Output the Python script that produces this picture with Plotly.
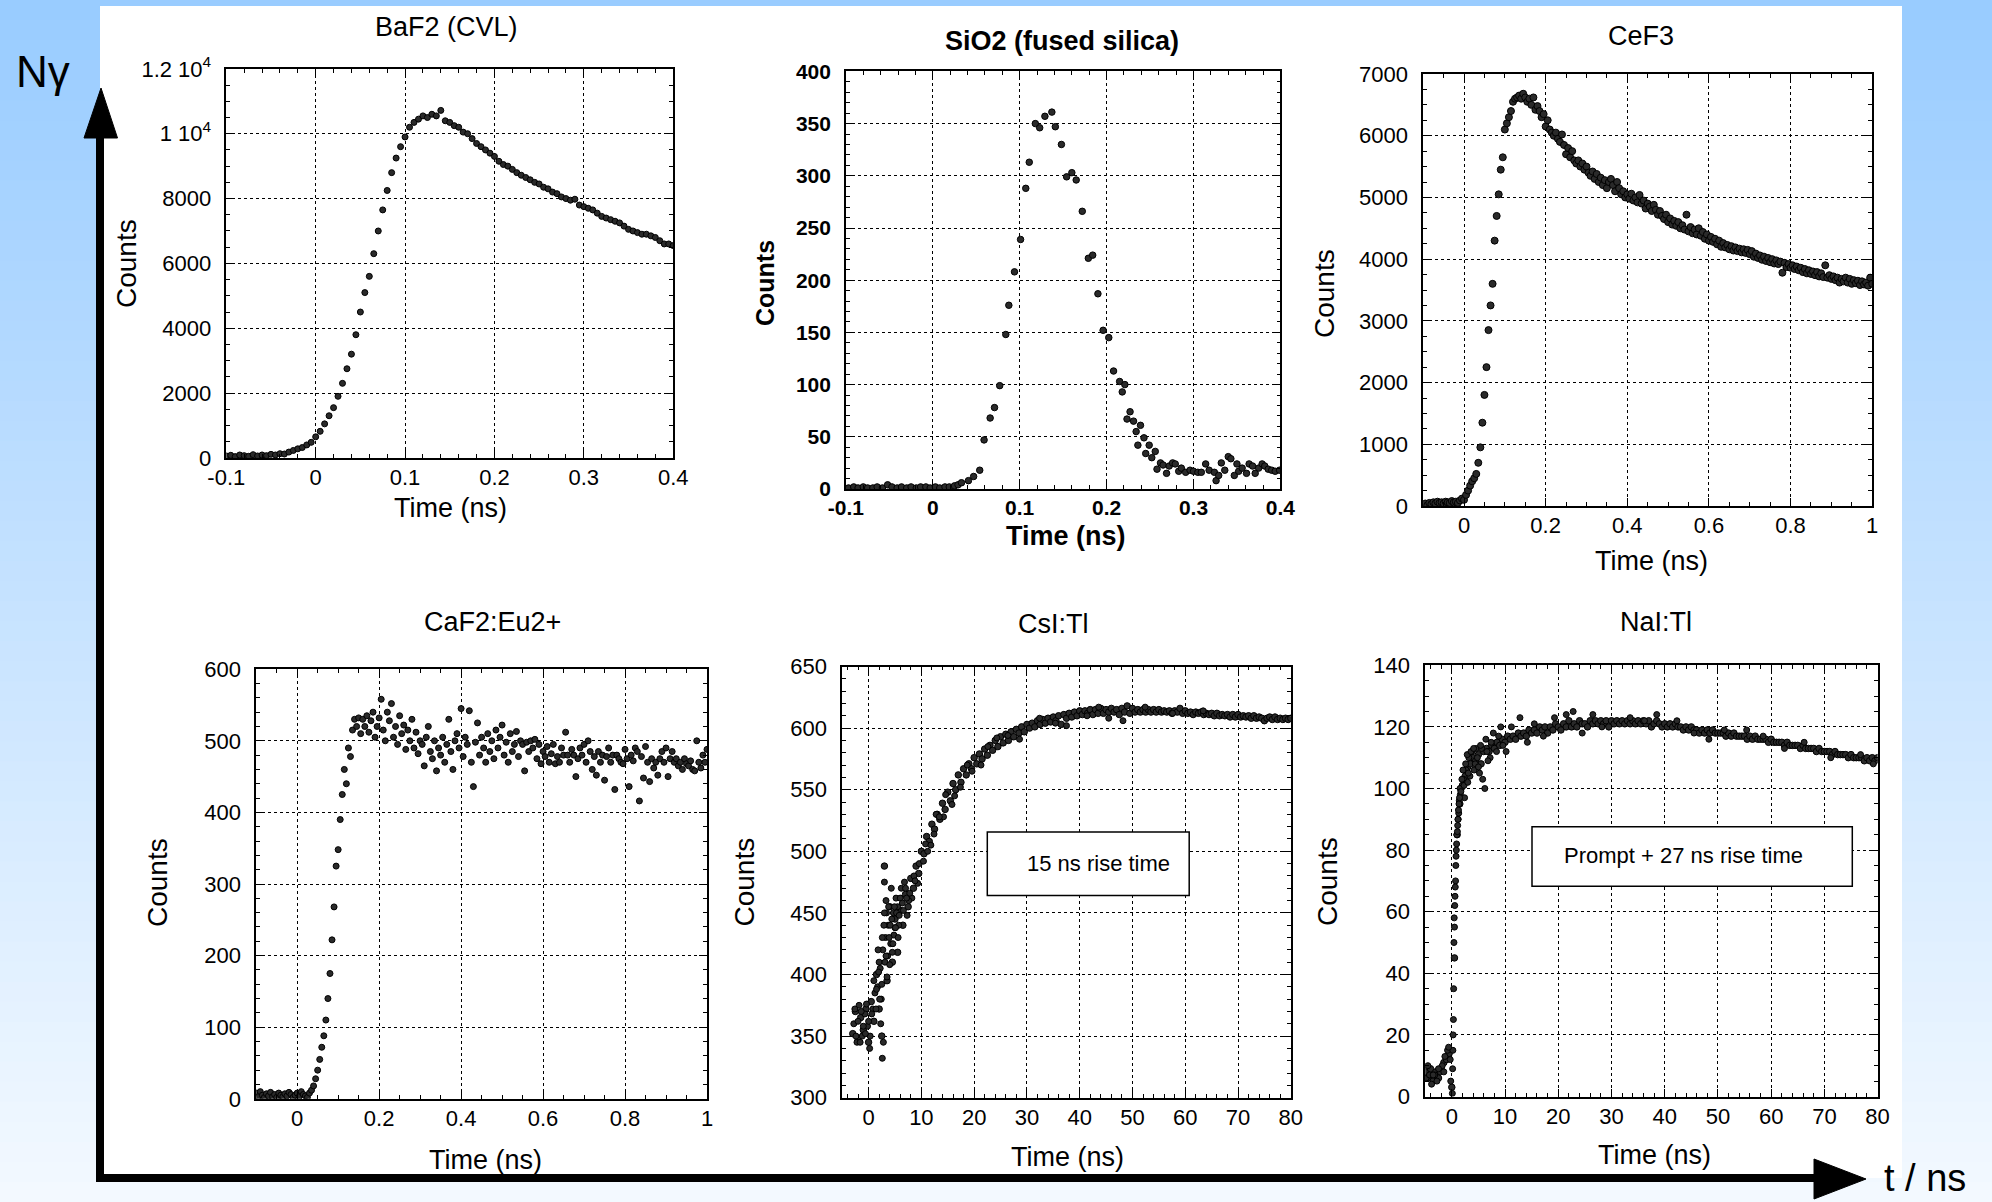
import numpy as np
import plotly.graph_objects as go

W, H = 1992, 1202

# ---------------- data ----------------
# BaF2 (CVL): regular time bins
baf2_t0, baf2_dt = -0.1, 0.005
baf2_counts = [60, 80, 40, 90, 70, 50, 100, 60, 90, 70,
               110, 90, 130, 120, 180, 230, 280, 320, 400, 480,
               650, 820, 1050, 1300, 1550, 1900, 2300, 2750, 3200, 3800,
               4500, 5100, 5600, 6300, 7000, 7650, 8250, 8800, 9250, 9600,
               9900, 10200, 10350, 10450, 10550, 10500, 10600, 10550, 10720, 10400,
               10350, 10250, 10200, 10050, 10000, 9850, 9700, 9600, 9500, 9400,
               9300, 9150, 9050, 9000, 8900, 8800, 8720, 8650, 8580, 8500,
               8450, 8350, 8300, 8200, 8150, 8050, 8000, 7950, 7980, 7800,
               7750, 7700, 7650, 7550, 7450, 7400, 7350, 7300, 7250, 7150,
               7050, 7000, 6950, 6900, 6900, 6850, 6800, 6700, 6600, 6600,
               6550]

# SiO2 (fused silica): explicit points
sio2_time = [-0.097, -0.091, -0.086, -0.080, -0.075, -0.069, -0.064, -0.058, -0.052, -0.047,
             -0.041, -0.036, -0.030, -0.025, -0.019, -0.014, -0.008, -0.003, 0.003, 0.008,
             0.014, 0.019, 0.025,
             0.029, 0.033, 0.041, 0.047, 0.054, 0.059, 0.066, 0.071, 0.077, 0.084,
             0.0875, 0.094, 0.101, 0.107, 0.111, 0.118, 0.123, 0.129, 0.137, 0.141,
             0.148, 0.154, 0.160, 0.165, 0.172, 0.179, 0.184, 0.190, 0.196, 0.2025,
             0.208, 0.215, 0.218, 0.221, 0.2235, 0.227, 0.231, 0.234, 0.236, 0.239,
             0.243, 0.245, 0.249, 0.252, 0.256, 0.258, 0.262, 0.265, 0.269, 0.272,
             0.276, 0.279, 0.283, 0.286, 0.291, 0.296, 0.300, 0.305, 0.309, 0.314,
             0.318, 0.324, 0.326, 0.329, 0.332, 0.336, 0.340, 0.343, 0.347, 0.350,
             0.352, 0.356, 0.361, 0.364, 0.368, 0.371, 0.375, 0.379, 0.382, 0.386,
             0.390, 0.394, 0.399]
sio2_counts = [1, 2, 1, 2, 1, 1, 2, 1, 4, 2,
               1, 2, 1, 2, 1, 2, 2, 1, 2, 1,
               2, 2, 3,
               4, 6, 8, 12, 18, 47, 68, 78, 99, 148,
               176, 208, 239, 288, 313, 350, 346, 357, 361, 347,
               330, 299, 303, 296, 266, 221, 224, 187, 152, 145,
               113, 103, 93, 100, 67, 74, 65, 55, 42, 61,
               49, 34, 42, 30, 36, 19, 25, 23, 15, 22,
               25, 24, 17, 20, 16, 18, 17, 16, 16, 24,
               18, 16, 8, 13, 25, 18, 31, 29, 13, 24,
               17, 20, 15, 24, 22, 15, 20, 24, 22, 19,
               18, 17, 18]

# CeF3
cef3_t0, cef3_dt = -0.1, 0.005
cef3_counts = [20, 40, 10, 50, 30, 60, 40, 70, 50, 60,
               40, 70, 60, 50, 80, 60, 70, 50, 90, 120,
               100, 180, 250, 330, 400, 450, 520, 700, 950, 1350,
               1800, 2250, 2850, 3250, 3600, 4300, 4700, 5050, 5450, 5650,
               6100, 6200, 6300, 6400, 6550, 6600, 6620, 6650, 6600, 6680,
               6620, 6550, 6600, 6500, 6620, 6420, 6480, 6400, 6300, 6350,
               6150, 6250, 6100, 6050, 6000, 6050, 5950, 5900, 6020, 5850,
               5700, 5800, 5650, 5750, 5600, 5550, 5600, 5500, 5550, 5450,
               5500, 5400, 5350, 5420, 5300, 5380, 5250, 5320, 5200, 5280,
               5150, 5250, 5300, 5200, 5100, 5250, 5150, 5050, 5100, 5000,
               5050,
               4980, 5060, 4950, 5000, 4920, 5040, 4900, 4950, 4820, 4900,
               4850, 4780, 4880, 4800, 4720, 4780, 4700, 4650, 4720, 4600,
               4660, 4560, 4620, 4540, 4600, 4500, 4550, 4480, 4720, 4450,
               4520, 4420, 4480, 4400, 4500, 4380, 4440, 4330, 4400, 4300,
               4360, 4280, 4330, 4240, 4300, 4200, 4260, 4190, 4230, 4160,
               4210, 4140, 4190, 4130, 4170, 4110, 4160, 4100, 4150, 4080,
               4130, 4040, 4090, 4020, 4060, 3990, 4040, 3970, 4020, 3950,
               4000, 3930, 3980, 3920, 3960, 3780, 3940, 3870, 3920, 3860,
               3900, 3840, 3880, 3820, 3860, 3790, 3840, 3770, 3820, 3760,
               3800, 3740, 3790, 3720, 3770, 3710, 3900, 3700, 3740, 3680,
               3720, 3660, 3700, 3620, 3680, 3640, 3700, 3620, 3680, 3600,
               3660, 3610, 3650, 3580, 3640, 3590, 3620, 3570, 3700, 3600]

# CaF2:Eu2+
caf2_t0, caf2_dt = -0.1, 0.005
caf2_counts = [8, 3, 10, 5, 2, 7, 4, 9, 3, 6, 2, 8, 5, 3, 7, 4, 9, 6, 2, 5, 8, 3, 10, 6, 4, 2, 8,
               12, 18, 28, 40, 55, 72, 88, 110, 140, 175,
               222, 268, 325, 348, 390, 425, 460, 440, 490, 478,
               515, 530, 520, 532, 510, 530, 520, 535, 512, 528,
               540, 505, 520, 532, 558, 515, 500, 540, 528, 552,
               505, 520, 495, 535, 510, 522, 488, 515, 500, 530,
               490, 512, 482, 500, 495, 465, 505, 520, 485, 475,
               500, 458, 490, 480, 505, 470, 495, 530, 485, 460,
               500, 510, 490, 545, 478, 505, 495, 542, 470, 436,
               498, 525, 480, 505, 490, 470, 510, 485, 500, 475,
               515, 490, 505, 522, 480, 498, 470, 510, 485, 495,
               513, 478, 500, 495, 458, 498, 485, 500, 490, 502,
               475, 495, 468, 485, 478, 492, 470, 482, 495, 468,
               478, 470, 490, 480, 512, 480, 470, 488, 480, 450,
               475, 490, 480, 495, 470, 500, 485, 460, 478, 452,
               485, 470, 480, 445, 478, 490, 470, 480, 432, 480,
               475, 470, 468, 488, 475, 436, 480, 472, 490, 485,
               416, 478, 448, 492, 470, 443, 475, 462, 470, 452,
               475, 485, 470, 490, 450, 475, 485, 470, 475, 465,
               470, 460, 475, 468, 465, 472, 460, 458, 500, 470,
               462, 480, 470, 488]

# CsI:Tl
csi_t0, csi_dt = -3.0, 0.5
csi_counts = [352, 370, 348, 365, 355, 372, 345, 378, 362, 400,
              372, 350, 488, 395, 455, 410, 445, 418, 452, 440,
              465, 455, 478, 470, 488, 482, 500, 498, 512, 508,
              522, 518, 530, 526, 539, 534, 548, 541, 555, 550,
              562, 556, 567, 562, 571, 567, 576, 571, 579, 575,
              583, 578, 586, 582, 590, 585, 593, 588, 595, 590,
              597, 593, 599, 596, 601, 597, 603, 600, 604, 601,
              606, 603, 607, 604, 608, 605, 609, 606, 610, 603,
              611, 608, 612, 609, 613, 610, 614, 611, 614, 612,
              615, 611, 615, 612, 616, 612, 615, 613, 616, 613,
              615, 611, 616, 613, 618, 612, 616, 613, 615, 613,
              615, 613, 615, 613, 615, 613, 615, 613, 614, 613,
              614, 612, 614, 613, 616, 612, 614, 612, 613, 611,
              613, 612, 613, 611, 612, 611, 612, 610, 612, 610,
              611, 610, 611, 609, 611, 609, 611, 609, 610, 609,
              610, 608, 610, 608, 609, 608, 606, 608, 609, 607,
              609, 607, 608, 607, 608, 607, 608]
csi_extra_time = [-2.8, -2.2, -1.8, -1.2, -0.7, -0.2, 0.3, 0.8, 1.2, 1.7,
                  2.2, 2.7, 2.8, 3.2, 3.3, 3.7, 4.2, 4.3, 4.7, 5.2,
                  5.7, 6.2, 6.8, 7.3, 2.6, 3.0, 1.8, 2.4, 3.6, 4.8,
                  5.5, 8.2, 9.3, 11.2, 12.8, 14.2, 16.3, 18.7, 21.3, 24.3,
                  37.5, 45.5, 48.2,
                  -2.6, -2.4, -2.0, -1.6, -1.4, -1.0, -0.6, -0.4, 0.0, 0.2,
                  0.6, 1.0, 1.4, 2.0, 2.3, 2.5, 2.9, 3.1, 3.4, 3.5,
                  3.9, 4.0, 4.4, 4.5, 4.9, 5.0, 5.3, 5.8, 6.0, 6.6,
                  7.0, 7.6, 8.6, 9.6, 10.4, 13.4, 15.8, 19.6,
                  1.5, 1.9, 2.1, 2.6, 3.0, 3.3, 3.8, 4.1, 4.6, 5.1,
                  5.6, 6.4, 7.2, 7.8, 8.8, 10.8, 11.8, 12.4, 14.6, 17.4,
                  22.6, 26.4, 28.6, 32.4, 35.4, 41.4, 43.6, 52.4, 57.6, 63.4]
csi_extra_counts = [360, 345, 375, 350, 368, 358, 350, 372, 385, 390,
                    405, 420, 345, 430, 460, 440, 425, 470, 450, 462,
                    440, 470, 475, 448, 332, 475, 420, 380, 415, 432,
                    455, 462, 474, 500, 530, 528, 545, 570, 570, 592,
                    602, 608, 606,
                    372, 350, 362, 345, 370, 358, 352, 376, 362, 340,
                    368, 395, 372, 410, 360, 392, 440, 410, 450, 398,
                    430, 408, 445, 418, 455, 438, 450, 448, 462, 452,
                    470, 460, 480, 490, 492, 528, 538, 565,
                    388, 402, 380, 430, 450, 415, 455, 440, 425, 438,
                    430, 458, 462, 466, 476, 506, 505, 514, 546, 552,
                    585, 594, 591, 608, 604, 610, 617, 617, 612, 614]

# NaI:Tl
nai_t0, nai_dt = -5.0, 0.5
nai_counts = [8, 6, 9, 5, 8, 6, 9, 11, 12, 14,
              3, 45, 85, 95, 101, 104, 107, 108, 110, 109,
              111, 108, 112, 113, 112, 114, 113, 115, 114, 116,
              115, 117, 116, 117, 116, 118, 117, 118, 117, 119,
              118, 119, 118, 120, 119, 120, 118, 120, 119, 121,
              120, 119, 121, 120, 122, 120, 121, 120, 122, 121,
              121, 120, 122, 121, 122, 121, 122, 121, 122, 120,
              122, 121, 122, 121, 122, 121, 122, 121, 122, 121,
              122, 121, 122, 121, 122, 120, 121, 122, 121, 120,
              121, 120, 121, 120, 121, 120, 120, 119, 120, 119,
              120, 119, 119, 118, 119, 118, 119, 118, 119, 118,
              118, 118, 118, 117, 118, 117, 118, 117, 117, 117,
              117, 116, 117, 116, 117, 116, 116, 116, 116, 115,
              116, 115, 115, 115, 115, 114, 115, 114, 114, 114,
              114, 113, 114, 113, 113, 113, 113, 112, 113, 112,
              112, 112, 112, 111, 112, 111, 111, 111, 111, 110,
              111, 110, 110, 110, 110, 109, 110, 109, 110, 109,
              110]
nai_extra_time = [-4.8, -4.2, -3.8, -3.2, -2.8, -2.2, -1.8, -1.3, -0.8, -0.3,
                  -0.2, 0.1, 0.2, 0.3, 0.35, 0.4, 0.45, 0.6, 0.7, 0.8,
                  0.9, 1.1, 1.2, 1.3, 1.4, 1.6, 1.8, 2.2, 2.4, 2.7,
                  3.2, 3.4, 3.8, 4.2, 4.6, 5.2, 5.6, 6.2, 6.4, 7.2,
                  7.8, 9.2, 10.2, 11.2, 12.8, 14.2, 15.5, 17.2, 19.3, 21.5,
                  22.8, 24.5, 26.5, 28.2, 33.5, 36.2, 38.5, 42.3, 45.5, 48.3,
                  51.2, 55.4, 58.5, 62.5, 66.2, 71.2, 76.8, 79.2,
                  0.5, 0.55, 0.65, 0.75, 0.85, 0.95, 1.05, 1.15, 1.25, 1.35,
                  1.45, 1.55, 1.7, 1.9, 2.1, 2.3, 2.6, 2.9, 3.1, 3.6,
                  4.1, 4.4, 4.8, 5.4, 5.8, 6.6, 6.8, 7.4, 8.4, 8.8,
                  9.6, -4.5, -3.5, -2.5, -1.5, -0.6, 0.25, 0.15, 3.0, 5.0]
nai_extra_counts = [6, 7, 4, 7, 5, 8, 10, 13, 15, 12,
                    5, 1, 15, 25, 35, 50, 58, 65, 70, 78,
                    82, 88, 90, 92, 96, 98, 100, 103, 97, 106,
                    110, 104, 112, 106, 113, 105, 113, 100, 116, 110,
                    118, 120, 112, 120, 123, 115, 121, 117, 123, 124,
                    125, 118, 124, 120, 123, 122, 124, 122, 118, 116,
                    119, 119, 117, 113, 115, 110, 111, 108,
                    55, 62, 68, 75, 80, 85, 86, 90, 93, 95,
                    97, 100, 99, 103, 106, 101, 108, 111, 105, 112,
                    113, 108, 110, 114, 103, 112, 109, 115, 112, 117,
                    114, 10, 7, 9, 8, 16, 20, 9, 102, 107]

titles = ["BaF2 (CVL)", "SiO2 (fused silica)", "CeF3", "CaF2:Eu2+", "CsI:Tl", "NaI:Tl"]
x_label = "Time (ns)"
y_label = "Counts"
box_texts = ["15 ns rise time", "Prompt + 27 ns rise time"]

# tick labels
tk_x_short = [-0.1, 0, 0.1, 0.2, 0.3, 0.4]
tk_x_short_txt = ["-0.1", "0", "0.1", "0.2", "0.3", "0.4"]
tk_x_long = [0, 0.2, 0.4, 0.6, 0.8, 1.0]
tk_x_long_txt = ["0", "0.2", "0.4", "0.6", "0.8", "1"]
tk_x_ns = [0, 10, 20, 30, 40, 50, 60, 70, 80]
tk_y_baf2 = [0, 2000, 4000, 6000, 8000, 10000, 12000]
tk_y_baf2_txt = ["0", "2000", "4000", "6000", "8000", "1 10<sup>4</sup>", "1.2 10<sup>4</sup>"]
tk_y_sio2 = [0, 50, 100, 150, 200, 250, 300, 350, 400]
tk_y_cef3 = [0, 1000, 2000, 3000, 4000, 5000, 6000, 7000]
tk_y_caf2 = [0, 100, 200, 300, 400, 500, 600]
tk_y_csi = [300, 350, 400, 450, 500, 550, 600, 650]
tk_y_nai = [0, 20, 40, 60, 80, 100, 120, 140]


def grid(t0, dt, vals):
    return t0 + dt * np.arange(len(vals))


FONT = "Liberation Sans, Arial, Helvetica, sans-serif"


def fx(px):
    return px / W


def fy(py):
    return 1 - py / H


panels = [
    dict(rect=(226.3, 68.9, 673.2, 457.9), xr=[-0.1, 0.4], yr=[0, 12000],
         xt=(tk_x_short, tk_x_short_txt), yt=(tk_y_baf2, tk_y_baf2_txt),
         xminor=(-0.1, 0.02), yminor=(0, 500), bold=False,
         title_xy=(446, 27), xlab_xy=(450, 508), ylab_xy=(126, 263)),
    dict(rect=(845.9, 71.4, 1280.4, 489.0), xr=[-0.1, 0.4], yr=[0, 400],
         xt=(tk_x_short, tk_x_short_txt), yt=(tk_y_sio2, [str(v) for v in tk_y_sio2]),
         xminor=(-0.1, 0.02), yminor=(0, 10), bold=True,
         title_xy=(1062, 41), xlab_xy=(1066, 536), ylab_xy=(765, 283)),
    dict(rect=(1423.2, 74.0, 1872.2, 506.0), xr=[-0.1, 1.0], yr=[0, 7000],
         xt=(tk_x_long, tk_x_long_txt), yt=(tk_y_cef3, [str(v) for v in tk_y_cef3]),
         xminor=(0, 0.05), yminor=(0, 250), bold=False,
         title_xy=(1641, 36), xlab_xy=(1651, 561), ylab_xy=(1324, 294)),
    dict(rect=(256.2, 669.2, 707.0, 1098.8), xr=[-0.1, 1.0], yr=[0, 600],
         xt=(tk_x_long, tk_x_long_txt), yt=(tk_y_caf2, [str(v) for v in tk_y_caf2]),
         xminor=(0, 0.05), yminor=(0, 20), bold=False,
         title_xy=(492.5, 622), xlab_xy=(485.5, 1160), ylab_xy=(157, 883)),
    dict(rect=(842.2, 666.5, 1290.8, 1097.7), xr=[-5, 80], yr=[300, 650],
         xt=(tk_x_ns, [str(v) for v in tk_x_ns]), yt=(tk_y_csi, [str(v) for v in tk_y_csi]),
         xminor=(0, 2), yminor=(300, 10), bold=False,
         title_xy=(1053, 624), xlab_xy=(1067, 1157), ylab_xy=(743.5, 882)),
    dict(rect=(1425.2, 665.3, 1877.6, 1096.5), xr=[-5, 80], yr=[0, 140],
         xt=(tk_x_ns, [str(v) for v in tk_x_ns]), yt=(tk_y_nai, [str(v) for v in tk_y_nai]),
         xminor=(0, 2), yminor=(0, 5), bold=False,
         title_xy=(1656, 622), xlab_xy=(1654, 1155), ylab_xy=(1327, 882)),
]

series = [
    [(grid(baf2_t0, baf2_dt, baf2_counts), baf2_counts, 6)],
    [(sio2_time, sio2_counts, 6.5)],
    [(grid(cef3_t0, cef3_dt, cef3_counts), cef3_counts, 7)],
    [(grid(caf2_t0, caf2_dt, caf2_counts), caf2_counts, 6)],
    [(grid(csi_t0, csi_dt, csi_counts), csi_counts, 6.5),
     (csi_extra_time, csi_extra_counts, 6)],
    [(grid(nai_t0, nai_dt, nai_counts), nai_counts, 6.5),
     (nai_extra_time, nai_extra_counts, 6)],
]

fig = go.Figure()
layout = dict(width=W, height=H,
              margin=dict(l=0, r=0, t=0, b=0, pad=0, autoexpand=False),
              paper_bgcolor="rgb(242,248,255)", plot_bgcolor="white",
              showlegend=False, template="none")

annotations = []
shapes = []

# background gradient
nb = 60
c0 = np.array([153, 204, 255])
c1 = np.array([243, 249, 255])
for i in range(nb):
    f = i / (nb - 1)
    c = (c0 * (1 - f) + c1 * f).round().astype(int)
    shapes.append(dict(type="rect", xref="paper", yref="paper", layer="below",
                       x0=0, x1=1, y0=1 - (i + 1) / nb - 0.002, y1=1 - i / nb,
                       fillcolor=f"rgb({c[0]},{c[1]},{c[2]})", line=dict(width=0)))
# white panel
shapes.append(dict(type="rect", xref="paper", yref="paper", layer="below",
                   x0=fx(100), x1=fx(1902), y0=fy(1178), y1=fy(6),
                   fillcolor="white", line=dict(width=0)))

for i, (p, sers) in enumerate(zip(panels, series)):
    k = "" if i == 0 else str(i + 1)
    x0, y0, x1, y1 = p["rect"]
    wt = "bold" if p["bold"] else "normal"
    tf = dict(family=FONT, size=21 if p["bold"] else 22, color="black", weight=wt)
    common = dict(showline=True, linecolor="black", linewidth=1.5, mirror="allticks",
                  ticks="inside", ticklen=8, tickwidth=1.2, tickcolor="black",
                  showgrid=True, gridcolor="black", gridwidth=1, griddash="3px,3px",
                  zeroline=False, tickfont=tf, fixedrange=True, automargin=False)
    layout["xaxis" + k] = dict(domain=[fx(x0), fx(x1)], range=p["xr"], anchor="y" + k,
                               tickmode="array", tickvals=p["xt"][0], ticktext=p["xt"][1],
                               ticklabelstandoff=-1,
                               minor=dict(tick0=p["xminor"][0], dtick=p["xminor"][1],
                                          ticks="inside", ticklen=4, tickcolor="black",
                                          tickwidth=1, showgrid=False),
                               **common)
    layout["yaxis" + k] = dict(domain=[fy(y1), fy(y0)], range=p["yr"], anchor="x" + k,
                               tickmode="array", tickvals=p["yt"][0], ticktext=p["yt"][1],
                               ticklabelstandoff=9,
                               minor=dict(tick0=p["yminor"][0], dtick=p["yminor"][1],
                                          ticks="inside", ticklen=4, tickcolor="black",
                                          tickwidth=1, showgrid=False),
                               **common)
    for xs, ys, sz in sers:
        fig.add_trace(go.Scatter(x=list(xs), y=ys, mode="markers", xaxis="x" + k, yaxis="y" + k,
                                 marker=dict(symbol="circle", size=sz, color="#2a2a2a",
                                             line=dict(color="black", width=1)),
                                 cliponaxis=True, hoverinfo="skip"))
    annotations.append(dict(text=titles[i], x=fx(p["title_xy"][0]), y=fy(p["title_xy"][1]),
                            xref="paper", yref="paper", showarrow=False,
                            xanchor="center", yanchor="middle",
                            font=dict(family=FONT, size=27, color="black", weight=wt)))
    annotations.append(dict(text=x_label, x=fx(p["xlab_xy"][0]), y=fy(p["xlab_xy"][1]),
                            xref="paper", yref="paper", showarrow=False,
                            xanchor="center", yanchor="middle",
                            font=dict(family=FONT, size=27, color="black", weight=wt)))
    annotations.append(dict(text=y_label, x=fx(p["ylab_xy"][0]), y=fy(p["ylab_xy"][1]),
                            xref="paper", yref="paper", showarrow=False, textangle=-90,
                            xanchor="center", yanchor="middle",
                            font=dict(family=FONT, size=25 if p["bold"] else 28,
                                      color="black", weight=wt)))

# annotation boxes
boxes = [((987.3, 832.0, 1189.2, 895.4), (1098, 863)),
         ((1532.0, 826.7, 1852.3, 886.2), (1683, 855))]
for ((bx0, by0, bx1, by1), (tx, ty)), txt in zip(boxes, box_texts):
    shapes.append(dict(type="rect", xref="paper", yref="paper", layer="above",
                       x0=fx(bx0), x1=fx(bx1), y0=fy(by1), y1=fy(by0),
                       fillcolor="white", line=dict(color="black", width=1.5)))
    annotations.append(dict(text=txt, x=fx(tx), y=fy(ty), xref="paper", yref="paper",
                            showarrow=False, xanchor="center", yanchor="middle",
                            font=dict(family=FONT, size=22, color="black")))

# big axes arrows
shapes.append(dict(type="line", xref="paper", yref="paper", layer="above",
                   x0=fx(100), x1=fx(100), y0=fy(1182), y1=fy(134),
                   line=dict(color="black", width=8)))
shapes.append(dict(type="path", xref="paper", yref="paper", layer="above",
                   path=f"M {fx(84)},{fy(138)} L {fx(117.5)},{fy(138)} L {fx(101)},{fy(88)} Z",
                   fillcolor="black", line=dict(color="black", width=1)))
shapes.append(dict(type="line", xref="paper", yref="paper", layer="above",
                   x0=fx(96), x1=fx(1818), y0=fy(1178), y1=fy(1178),
                   line=dict(color="black", width=8)))
shapes.append(dict(type="path", xref="paper", yref="paper", layer="above",
                   path=f"M {fx(1814)},{fy(1159)} L {fx(1814)},{fy(1199)} L {fx(1866)},{fy(1179)} Z",
                   fillcolor="black", line=dict(color="black", width=1)))

NARROW = "Liberation Sans Narrow, Arial Narrow, Liberation Sans, Arial, sans-serif"
annotations.append(dict(text="Nγ", x=fx(14), y=fy(72), xref="paper", yref="paper",
                        showarrow=False, xanchor="left", yanchor="middle",
                        font=dict(family=NARROW, size=44, color="black")))
annotations.append(dict(text="t / ns", x=fx(1882), y=fy(1201), xref="paper", yref="paper",
                        showarrow=False, xanchor="left", yanchor="bottom",
                        font=dict(family=NARROW, size=38, color="black")))

layout["shapes"] = shapes
layout["annotations"] = annotations
fig.update_layout(**layout)
fig.write_html("out.html",
               post_script="document.body.style.margin='0';document.body.style.overflow='hidden';")
